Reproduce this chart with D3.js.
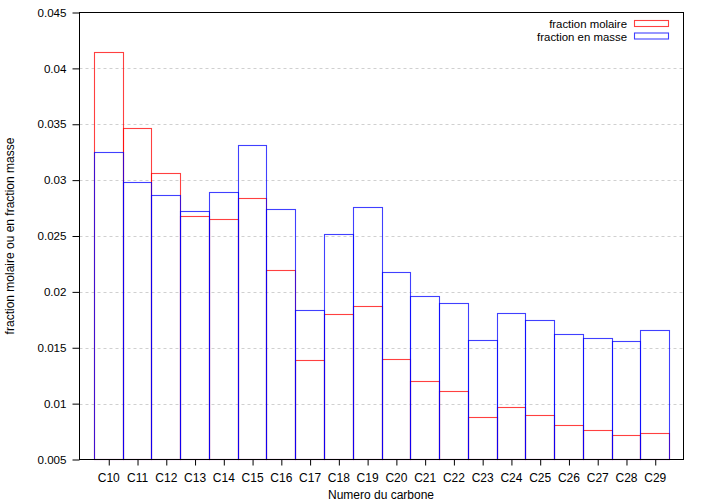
<!DOCTYPE html>
<html><head><meta charset="utf-8">
<script src="https://cdn.jsdelivr.net/npm/d3@7"></script>
<style>
body{margin:0;background:#fff;}
text{font-family:"Liberation Sans",Arial,Helvetica,sans-serif;font-size:12px;fill:#000;}
</style></head>
<body><svg id="c" width="705" height="504"></svg>
<script>
const categories = ["C10","C11","C12","C13","C14","C15","C16","C17","C18","C19","C20","C21","C22","C23","C24","C25","C26","C27","C28","C29"];
const fractionMolaire = [0.0415,0.0347,0.0306,0.0268,0.0265,0.0284,0.0220,0.0139,0.0180,0.0187,0.0140,0.0120,0.0111,0.0088,0.0097,0.0090,0.0081,0.0076,0.0072,0.0074];
const fractionMasse = [0.0325,0.0298,0.0287,0.0272,0.0289,0.0331,0.0274,0.0184,0.0252,0.0276,0.0218,0.0196,0.0190,0.0157,0.0181,0.0175,0.0162,0.0159,0.0156,0.0166];
const yTicks = [0.005,0.01,0.015,0.02,0.025,0.03,0.035,0.04,0.045];
const seriesNames = ["fraction molaire","fraction en masse"];
const seriesColors = ["rgba(255,0,0,0.75)","rgba(0,0,255,0.75)"];

const svg = d3.select("#c");
const L=79.5, R=683.5, T=12.5, B=459.5;
const x = d3.scaleLinear().domain([-1,20]).range([L,R]);
const y = d3.scaleLinear().domain([0.005,0.045]).range([B,T]);

// grid
svg.append("g").selectAll("line").data(yTicks.filter(v=>v>0.005&&v<0.045)).join("line")
  .attr("x1",L).attr("x2",R).attr("y1",d=>Math.round(y(d))+0.5).attr("y2",d=>Math.round(y(d))+0.5)
  .attr("stroke","#d0d0d0").attr("stroke-dasharray","3,3");

// boxes
[fractionMolaire,fractionMasse].forEach((vals,si)=>{
  svg.append("g").selectAll("rect").data(vals).join("rect")
    .attr("x",(d,i)=>Math.round(x(i-0.5))+0.5)
    .attr("width",(d,i)=>Math.round(x(i+0.5))-Math.round(x(i-0.5)))
    .attr("y",d=>Math.round(y(d))+0.5)
    .attr("height",d=>B-(Math.round(y(d))+0.5))
    .attr("fill","none").attr("stroke",seriesColors[si]).attr("stroke-width",1.1);
});

// border
svg.append("rect").attr("x",L).attr("y",T).attr("width",R-L).attr("height",B-T)
  .attr("fill","none").attr("stroke","#000");

// y axis
const ya = d3.axisLeft(y).tickValues(yTicks).tickFormat(d=>String(+d.toFixed(3))).tickSize(7).tickPadding(6);
const gy = svg.append("g").attr("transform",`translate(${L},0)`).call(ya);
gy.select(".domain").remove();
gy.selectAll("text").style("font-size","11.6px").attr("fill","#000");

// x axis
const xa = d3.axisBottom(x).tickValues(d3.range(categories.length)).tickFormat(i=>categories[i]).tickSize(6).tickPadding(8);
const gx = svg.append("g").attr("transform",`translate(0,${B})`).call(xa);
gx.select(".domain").remove();
gx.selectAll("line").attr("transform","translate(0.5,0)");
gx.selectAll("text").style("font-size","12px").attr("fill","#000");

// axis titles
svg.append("text").attr("x",381).attr("y",499).attr("text-anchor","middle").text("Numero du carbone");
svg.append("text").attr("transform",`translate(14,${(T+B)/2}) rotate(-90)`).attr("text-anchor","middle").text("fraction molaire ou en fraction masse");

// legend
seriesNames.forEach((n,i)=>{
  const yy = 24 + i*12.5;
  svg.append("text").attr("x",627).attr("y",yy+4).attr("text-anchor","end").style("font-size","11.4px").text(n);
  svg.append("rect").attr("x",634.5).attr("y",yy-3.5).attr("width",34).attr("height",6)
    .attr("fill","none").attr("stroke",seriesColors[i]).attr("stroke-width",1.1);
});
</script></body></html>
